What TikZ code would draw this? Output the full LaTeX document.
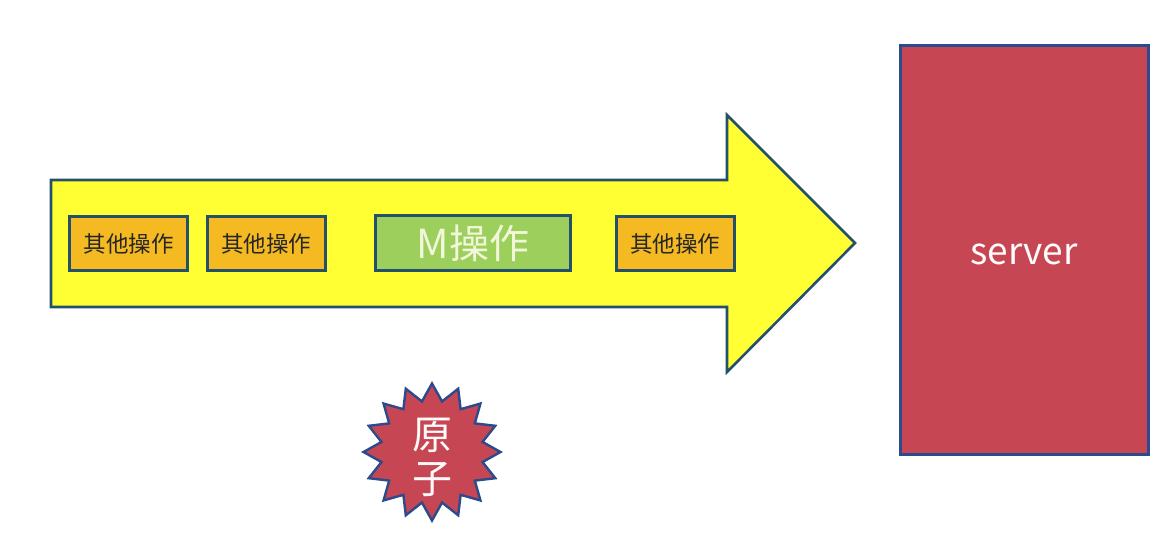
\documentclass[tikz,border=0pt]{standalone}
\usepackage{fontspec}
\newfontfamily\cjk{Noto Sans CJK SC}
\usetikzlibrary{shapes.geometric}
\definecolor{arrowyellow}{HTML}{FFFF33}
\definecolor{edgeteal}{HTML}{24506A}
\definecolor{opbox}{HTML}{F5BA22}
\definecolor{mgreen}{HTML}{9CCF5C}
\definecolor{srvred}{HTML}{C64654}
\definecolor{srvblue}{HTML}{2C4A8C}
\definecolor{paletext}{HTML}{F3F7DA}
\tikzset{
  opnode/.style={draw=edgeteal, line width=3pt, fill=opbox, minimum width=118pt, minimum height=54pt, inner sep=0pt, font=\cjk\fontsize{22.5}{26}\selectfont, text=black!85},
  mnode/.style={draw=edgeteal, line width=3pt, fill=mgreen, minimum width=195pt, minimum height=55pt, inner sep=0pt, font=\cjk\fontsize{40}{44}\selectfont, text=paletext},
}
\begin{document}
\begin{tikzpicture}[x=1pt,y=1pt]
\useasboundingbox (0,0) rectangle (1174,552);
\fill[white] (0,0) rectangle (1174,552);
% big arrow
\draw[draw=edgeteal, line width=2.6pt, fill=arrowyellow, line join=miter]
  (51,372) -- (727,372) -- (727,437) -- (855,309) -- (727,180) -- (727,245) -- (51,245) -- cycle;
% operation boxes
\node[opnode] (op1) at (128.5,308.5) {其他操作};
\node[opnode] (op2) at (266,308.5) {其他操作};
\node[mnode] (m) at (473,309) {M操作};
\node[opnode] (op4) at (675,308.5) {其他操作};
% server
\node[draw=srvblue, line width=3pt, fill=srvred, minimum width=248pt, minimum height=408pt, inner sep=0pt] (server) at (1024,302) {};
\node[font=\cjk\fontsize{37}{42}\selectfont, text=white!95!pink, yshift=-4pt] (servertext) at (server.center) {server};
% starburst
\node[star, star points=16, star point ratio=1.33, minimum size=137pt, draw=srvblue, line width=2.4pt, fill=srvred,
  inner sep=0pt] (atom) at (432,100) {};
\node[align=center, inner sep=0pt, yshift=-5pt, font=\cjk\fontsize{40}{44}\selectfont, text=white!92!pink] (atomtext) at (atom.center) {原\\子};
\end{tikzpicture}
\end{document}
